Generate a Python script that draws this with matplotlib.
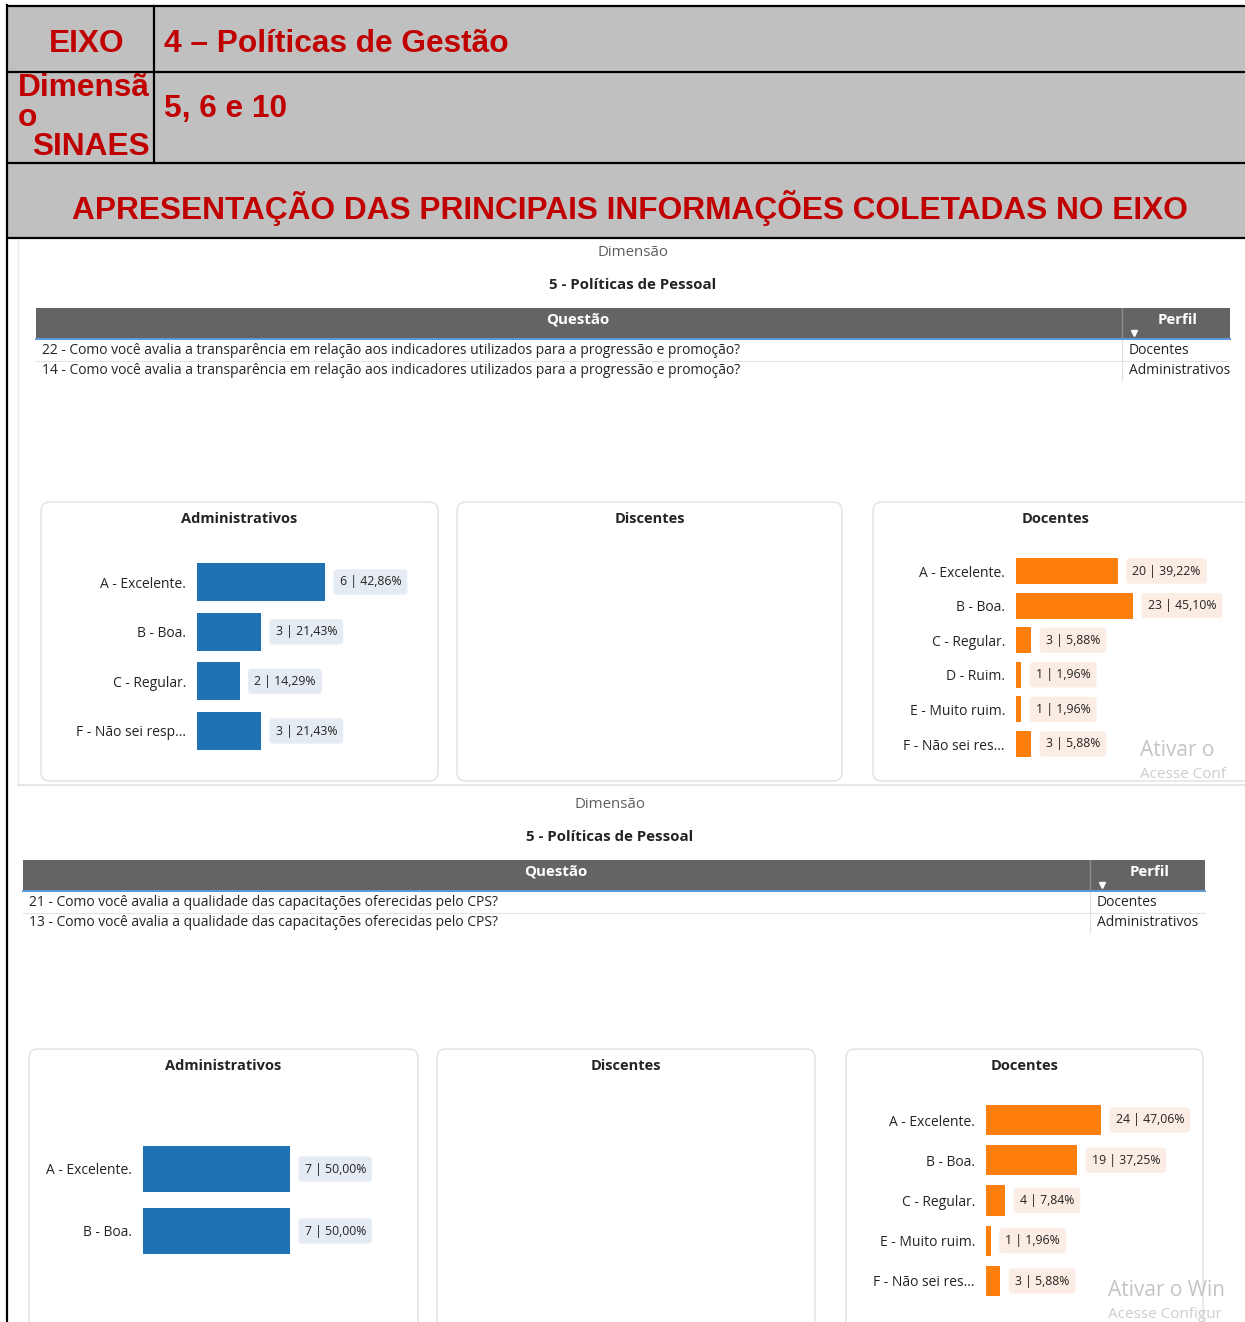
import matplotlib
matplotlib.use("Agg")
import matplotlib.pyplot as plt
from matplotlib.patches import Rectangle, FancyBboxPatch

# ---------------- data ----------------
header_eixo = "4 – Políticas de Gestão"
header_dim = "5, 6 e 10"
header_title = "APRESENTAÇÃO DAS PRINCIPAIS INFORMAÇÕES COLETADAS NO EIXO"
dim_name = "5 - Políticas de Pessoal"

s1_questions = ["22 - Como você avalia a transparência em relação aos indicadores utilizados para a progressão e promoção?",
                "14 - Como você avalia a transparência em relação aos indicadores utilizados para a progressão e promoção?"]
s1_perfil = ["Docentes", "Administrativos"]
s1_adm_cats = ["A - Excelente.", "B - Boa.", "C - Regular.", "F - Não sei resp..."]
s1_adm_vals = [6, 3, 2, 3]
s1_doc_cats = ["A - Excelente.", "B - Boa.", "C - Regular.", "D - Ruim.", "E - Muito ruim.", "F - Não sei res..."]
s1_doc_vals = [20, 23, 3, 1, 1, 3]

s2_questions = ["21 - Como você avalia a qualidade das capacitações oferecidas pelo CPS?",
                "13 - Como você avalia a qualidade das capacitações oferecidas pelo CPS?"]
s2_perfil = ["Docentes", "Administrativos"]
s2_adm_cats = ["A - Excelente.", "B - Boa."]
s2_adm_vals = [7, 7]
s2_doc_cats = ["A - Excelente.", "B - Boa.", "C - Regular.", "E - Muito ruim.", "F - Não sei res..."]
s2_doc_vals = [24, 19, 4, 1, 3]

watermarks = [("Ativar o", "Acesse Conf"), ("Ativar o Win", "Acesse Configur")]

# ---------------- style ----------------
W, H = 1245, 1322
RED = "#c00000"
HDR_GRAY = "#c0c0c0"
BLUE = "#1f73b4"
ORANGE = "#ff7f0e"
BLUE_BOX = "#e4ebf2"
ORANGE_BOX = "#fbece4"
TXT = "#252423"
PBI = ["Open Sans", "DejaVu Sans"]
ARIAL = ["Liberation Sans", "DejaVu Sans"]

fig = plt.figure(figsize=(W / 100, H / 100), dpi=100)
fig.patch.set_facecolor("white")
bg = fig.add_axes([0, 0, 1, 1])
bg.set_xlim(0, W)
bg.set_ylim(H, 0)
bg.axis("off")

# ---------------- header table ----------------
bg.add_patch(Rectangle((7, 6), W - 7, 232, facecolor=HDR_GRAY, edgecolor="none"))
for y in (6, 72, 163, 238):
    bg.plot([7, W], [y, y], color="black", lw=1.6, solid_capstyle="butt")
bg.plot([7, 7], [5, H], color="black", lw=1.6)
bg.plot([154, 154], [6, 163], color="black", lw=1.6)

hfs = 22.8
bg.text(87, 44, "EIXO", fontsize=hfs, fontweight="bold", color=RED, family=ARIAL, ha="center", va="center")
bg.text(164, 44, header_eixo, fontsize=hfs, fontweight="bold", color=RED, family=ARIAL, ha="left", va="center")
bg.text(18, 88, "Dimensã", fontsize=hfs, fontweight="bold", color=RED, family=ARIAL, ha="left", va="center")
bg.text(18, 118, "o", fontsize=hfs, fontweight="bold", color=RED, family=ARIAL, ha="left", va="center")
bg.text(150, 147, "SINAES", fontsize=hfs, fontweight="bold", color=RED, family=ARIAL, ha="right", va="center")
bg.text(164, 109, header_dim, fontsize=hfs, fontweight="bold", color=RED, family=ARIAL, ha="left", va="center")
bg.text(630, 208, header_title, fontsize=hfs, fontweight="bold", color=RED, family=ARIAL, ha="center", va="center")

# faint frame of first report page
bg.plot([18, 18], [240, 785], color="#e8e8e8", lw=1)
bg.plot([18, W], [785, 785], color="#e3e3e3", lw=1.2)


def table(x0, x1, xdiv, ytop, cx_q, questions, perfil, cx_center, y_dim):
    bg.text(cx_center, y_dim, "Dimensão", fontsize=10.8, color="#605e5c", family=PBI, ha="center", va="center")
    bg.text(cx_center, y_dim + 32, dim_name, fontsize=10.8, fontweight="bold", color=TXT, family=PBI,
            ha="center", va="center")
    bg.add_patch(Rectangle((x0, ytop), x1 - x0, 30, facecolor="#646464", edgecolor="none"))
    bg.plot([xdiv, xdiv], [ytop, ytop + 30], color="#8a8a8a", lw=1)
    bg.plot([x0, x1], [ytop + 31, ytop + 31], color="#4a8fd6", lw=1.3)
    bg.text(cx_q, ytop + 12, "Questão", fontsize=10.8, fontweight="bold", color="white", family=PBI,
            ha="center", va="center")
    bg.text((xdiv + x1) / 2 + 2, ytop + 12, "Perfil", fontsize=10.8, fontweight="bold", color="white",
            family=PBI, ha="center", va="center")
    bg.plot([xdiv + 12], [ytop + 25], marker="v", color="white", markersize=5)
    for i, (q, p) in enumerate(zip(questions, perfil)):
        y = ytop + 43 + 20 * i
        bg.text(x0 + 6, y, q, fontsize=10, color=TXT, family=PBI, ha="left", va="center")
        bg.text(xdiv + 7, y, p, fontsize=10, color=TXT, family=PBI, ha="left", va="center")
        if i == 0:
            bg.plot([x0, x1], [y + 10, y + 10], color="#e4e4e4", lw=0.8)
    bg.plot([xdiv, xdiv], [ytop + 32, ytop + 72], color="#e0e0e0", lw=0.8)


table(36, 1230, 1122, 308, 578, s1_questions, s1_perfil, 633, 253)
table(23, 1205, 1090, 860, 556, s2_questions, s2_perfil, 610, 805)


def card(x0, x1, y0, y1, title, tx=None):
    bg.add_patch(FancyBboxPatch((x0, y0), x1 - x0, y1 - y0, boxstyle="round,pad=0,rounding_size=9",
                                facecolor="white", edgecolor="#e2e2e2", lw=1.0))
    bg.text((x0 + x1) / 2 if tx is None else tx, y0 + 17, title, fontsize=10.5, fontweight="bold",
            color=TXT, family=PBI, ha="center", va="center")


card(41, 438, 502, 781, "Administrativos")
card(457, 842, 502, 781, "Discentes")
card(873, 1270, 502, 781, "Docentes", tx=1056)
card(29, 418, 1049, 1340, "Administrativos")
card(437, 815, 1049, 1340, "Discentes")
card(846, 1203, 1049, 1340, "Docentes")


def fmt_pct(v, total):
    return f"{v} | {100 * v / total:.2f}%".replace(".", ",")


def bar_panel(x0, x1, y_first, y_last, cats, vals, color, boxcolor, ppu, frac):
    n = len(cats)
    sp = (y_last - y_first) / (n - 1)
    top, bot = y_first - sp / 2, y_last + sp / 2
    ax = fig.add_axes([x0 / W, 1 - bot / H, (x1 - x0) / W, (bot - top) / H])
    ax.patch.set_alpha(0)
    pos = list(range(n))
    ax.barh(pos, vals, height=frac, color=color)
    ax.set_ylim(n - 0.5, -0.5)
    ax.set_xlim(0, (x1 - x0) / ppu)
    ax.set_yticks(pos)
    ax.set_yticklabels(cats, fontsize=10, color=TXT, family=PBI)
    ax.tick_params(axis="y", length=0, pad=8)
    ax.set_xticks([])
    for s in ax.spines.values():
        s.set_visible(False)
    total = sum(vals)
    for p, v in zip(pos, vals):
        ax.annotate(fmt_pct(v, total), (v, p), xytext=(10.5, 0), textcoords="offset points",
                    ha="left", va="center", fontsize=8.8, color=TXT, family=PBI,
                    bbox=dict(boxstyle="round,pad=0.5,rounding_size=0.3", facecolor=boxcolor, edgecolor="none"))
    return ax


bar_panel(197, 436, 582, 731, s1_adm_cats, s1_adm_vals, BLUE, BLUE_BOX, 21.33, 0.76)
bar_panel(1016, 1239, 571, 744, s1_doc_cats, s1_doc_vals, ORANGE, ORANGE_BOX, 5.09, 0.75)
bar_panel(143, 416, 1169, 1231, s2_adm_cats, s2_adm_vals, BLUE, BLUE_BOX, 21.0, 0.74)
bar_panel(986, 1203, 1120, 1281, s2_doc_cats, s2_doc_vals, ORANGE, ORANGE_BOX, 4.79, 0.75)

# Windows activation watermark (visible part only)
for (x, y1, y2), (w1, w2) in zip(((1140, 750, 775), (1108, 1291, 1315)), watermarks):
    fig.text(x / W, 1 - y1 / H, w1, fontsize=15, color="#c4c4c4", family=PBI, va="center")
    fig.text(x / W, 1 - y2 / H, w2, fontsize=11, color="#cdcdcd", family=PBI, va="center")

fig.savefig("out.png", dpi=100)
